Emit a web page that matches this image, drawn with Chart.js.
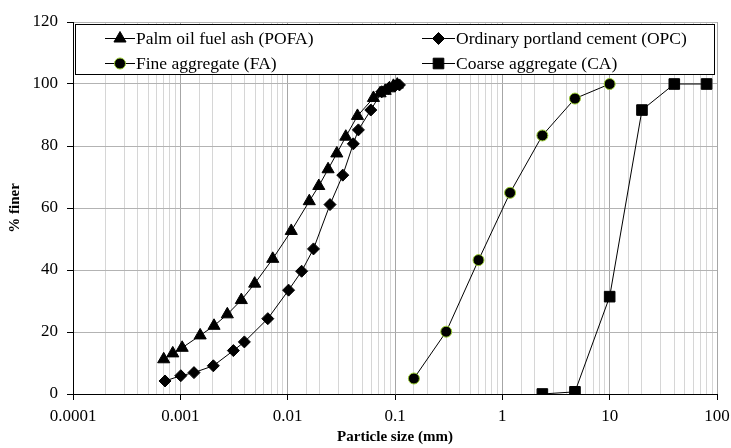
<!DOCTYPE html>
<html lang="en">
<head>
  <meta charset="UTF-8">
  <title>Particle size distribution</title>
  <script src="https://cdn.jsdelivr.net/npm/chart.js"></script>
  <style>
    html, body { margin: 0; padding: 0; background: #fff; }
    #wrap { width: 731px; height: 448px; }
  </style>
</head>
<body>
  <div id="wrap"><canvas id="grafico"></canvas></div>

  <script>
    // Palm oil fuel ash (POFA)
    const pofaSize = [0.0007, 0.00085, 0.00104, 0.00153, 0.00206, 0.00274, 0.0037, 0.00493, 0.00726, 0.0108, 0.0159, 0.0195, 0.0238, 0.0287, 0.0348, 0.0447, 0.063, 0.0726, 0.081, 0.0887, 0.0966, 0.105];
    const pofaFiner = [11.2, 13.1, 14.9, 18.9, 22.0, 25.7, 30.3, 35.6, 43.6, 52.6, 62.2, 67.1, 72.5, 77.6, 83.0, 89.7, 95.5, 97.0, 97.8, 98.6, 99.4, 99.8];

    // Ordinary portland cement (OPC)
    const opcSize = [0.00072, 0.00101, 0.00134, 0.00203, 0.00312, 0.00395, 0.00653, 0.0102, 0.0135, 0.0174, 0.0248, 0.0326, 0.0409, 0.0456, 0.0595, 0.0753, 0.0869, 0.1, 0.11];
    const opcFiner = [4.2, 5.9, 6.9, 9.1, 14.0, 16.8, 24.3, 33.5, 39.6, 46.8, 61.1, 70.6, 80.7, 85.2, 91.6, 97.5, 98.6, 99.4, 99.7];

    // Fine aggregate (FA)
    const faSize = [0.15, 0.3, 0.6, 1.18, 2.36, 4.75, 10];
    const faFiner = [5.0, 20.1, 43.2, 64.9, 83.4, 95.3, 100];

    // Coarse aggregate (CA)
    const caSize = [2.36, 4.75, 10, 20, 40, 80];
    const caFiner = [0, 0.7, 31.4, 91.6, 100, 100];

    const xTickLabels = ['0.0001', '0.001', '0.01', '0.1', '1', '10', '100'];
    const yTicks = [0, 20, 40, 60, 80, 100, 120];
    const nomes = ['Palm oil fuel ash (POFA)', 'Ordinary portland cement (OPC)', 'Fine aggregate (FA)', 'Coarse aggregate (CA)'];

    const serif = "'Liberation Serif', 'Times New Roman', serif";

    function pares(xs, ys) {
      return xs.map((x, i) => ({ x: x, y: ys[i] }));
    }

    function ehMaior(v) {
      const l = Math.log10(v);
      return Math.abs(l - Math.round(l)) < 1e-6;
    }

    // legenda desenhada dentro da area do grafico, com linha + marcador
    const legendaBox = {
      id: 'legendaBox',
      afterDatasetsDraw(chart) {
        const ctx = chart.ctx;
        ctx.save();
        ctx.fillStyle = '#fff';
        ctx.fillRect(75.5, 24.5, 639, 50);
        ctx.strokeStyle = '#000';
        ctx.lineWidth = 1;
        ctx.strokeRect(75.5, 24.5, 639, 50);

        const lugares = [[105, 38], [422, 38], [105, 63], [422, 63]];
        chart.data.datasets.forEach((ds, i) => {
          const [lx, ly] = lugares[i];
          const len = i % 2 === 0 ? 30 : 33;
          ctx.strokeStyle = '#000';
          ctx.lineWidth = 1;
          ctx.beginPath();
          ctx.moveTo(lx, ly + 0.5);
          ctx.lineTo(lx + len, ly + 0.5);
          ctx.stroke();

          ctx.fillStyle = ds.pointBackgroundColor;
          ctx.strokeStyle = ds.pointBorderColor;
          ctx.lineWidth = ds.pointBorderWidth;
          Chart.helpers.drawPoint(ctx, {
            pointStyle: ds.pointStyle,
            radius: ds.pointRadius,
            borderWidth: ds.pointBorderWidth,
            rotation: 0
          }, lx + len / 2, ly + 0.5);

          ctx.fillStyle = '#000';
          ctx.font = '17.5px ' + serif;
          ctx.textBaseline = 'middle';
          ctx.textAlign = 'left';
          ctx.fillText(ds.label, lx + len + 1, ly + 1);
        });
        ctx.restore();
      }
    };

    const grafico = new Chart(document.getElementById('grafico'), {
      type: 'scatter',
      data: {
        datasets: [
          {
            label: nomes[0],
            data: pares(pofaSize, pofaFiner),
            showLine: true,
            borderColor: '#000',
            borderWidth: 1,
            pointStyle: 'triangle',
            pointRadius: 7,
            pointBackgroundColor: '#000',
            pointBorderColor: '#000',
            pointBorderWidth: 1
          },
          {
            label: nomes[1],
            data: pares(opcSize, opcFiner),
            showLine: true,
            borderColor: '#000',
            borderWidth: 1,
            pointStyle: 'rectRot',
            pointRadius: 6,
            pointBackgroundColor: '#000',
            pointBorderColor: '#000',
            pointBorderWidth: 1
          },
          {
            label: nomes[2],
            data: pares(faSize, faFiner),
            showLine: true,
            borderColor: '#000',
            borderWidth: 1,
            pointStyle: 'circle',
            pointRadius: 5.5,
            pointBackgroundColor: '#000',
            pointBorderColor: '#9acd32',
            pointBorderWidth: 1
          },
          {
            label: nomes[3],
            data: pares(caSize, caFiner),
            showLine: true,
            borderColor: '#000',
            borderWidth: 1,
            pointStyle: 'rect',
            pointRadius: 7.5,
            pointBackgroundColor: '#000',
            pointBorderColor: '#000',
            pointBorderWidth: 1
          }
        ]
      },
      options: {
        responsive: true,
        maintainAspectRatio: false,
        animation: false,
        layout: { padding: { top: 22, right: 14, bottom: 0, left: 0 } },
        plugins: {
          legend: { display: false },
          tooltip: { enabled: false }
        },
        scales: {
          x: {
            type: 'logarithmic',
            min: 0.0001,
            max: 100,
            afterFit(scale) {
              scale.height = 54;
              scale.paddingLeft = 0;
              scale.paddingRight = 0;
            },
            grid: {
              color: c => ehMaior(c.tick.value) ? '#a6a6a6' : '#d6d6d6',
              tickColor: c => ehMaior(c.tick.value) ? '#000' : 'rgba(0,0,0,0)',
              tickLength: 6
            },
            border: { color: '#000', width: 1 },
            ticks: {
              autoSkip: false,
              maxRotation: 0,
              padding: 6,
              color: '#000',
              font: { family: serif, size: 17 },
              callback: v => ehMaior(v) ? xTickLabels[Math.round(Math.log10(v)) + 4] : ''
            },
            title: {
              display: true,
              text: 'Particle size (mm)',
              color: '#000',
              font: { family: serif, size: 15, weight: 'bold' },
              padding: { top: 0, bottom: 2 }
            }
          },
          y: {
            min: 0,
            max: 120,
            afterFit(scale) { scale.width = 73; },
            afterBuildTicks(scale) { scale.ticks = yTicks.map(v => ({ value: v })); },
            grid: { color: '#b3b3b3', tickColor: '#000', tickLength: 6 },
            border: { color: '#000', width: 1 },
            ticks: {
              padding: 9,
              color: '#000',
              font: { family: serif, size: 17 }
            },
            title: {
              display: true,
              text: '% finer',
              color: '#000',
              font: { family: serif, size: 15, weight: 'bold' },
              padding: { top: 6, bottom: 0 }
            }
          }
        }
      },
      plugins: [legendaBox]
    });
  </script>
</body>
</html>
